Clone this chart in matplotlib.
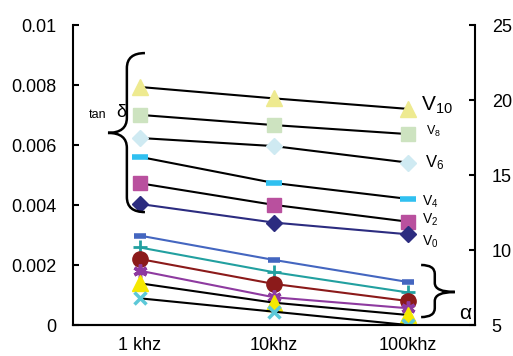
import numpy as np
import matplotlib.pyplot as plt
from matplotlib.path import Path
from matplotlib.patches import PathPatch

plt.rcParams['font.family'] = ['Liberation Sans', 'DejaVu Sans']

# категории частоты
freqs = ['1 khz', '10khz', '100khz']

# tan delta (левая ось)
v10 = [0.00795, 0.00757, 0.00722]
v8 = [0.00702, 0.00668, 0.00638]
v6 = [0.00625, 0.00598, 0.00543]
v4 = [0.00562, 0.00475, 0.00422]
v2 = [0.00474, 0.00402, 0.00346]
v0 = [0.00405, 0.00343, 0.00304]

# alpha (правая ось)
a_blue = [10.99, 9.37, 7.90]
a_teal = [10.20, 8.55, 7.20]
a_red = [9.43, 7.77, 6.63]
a_purple = [8.65, 6.88, 6.15]
a_yellow = [7.81, 6.52, 5.70]
a_cyan = [6.81, 5.92, 5.03]

left_ticks = [0, 0.002, 0.004, 0.006, 0.008, 0.01]
left_labels = ['0', '0.002', '0.004', '0.006', '0.008', '0.01']
right_ticks = [5, 10, 15, 20, 25]

x = np.arange(len(freqs))

fig = plt.figure(figsize=(5.13, 3.56), dpi=100)
ax = fig.add_axes([0.1423, 0.0857, 0.7836, 0.8427])
ax2 = ax.twinx()

# верхняя группа
ax.plot(x, v10, color='black', lw=1.5, marker='^', ms=11, mfc='#eeea90', mec='#eeea90')
ax.plot(x, v8, color='black', lw=1.5, marker='s', ms=10, mfc='#cde3c0', mec='#cde3c0')
ax.plot(x, v6, color='black', lw=1.5, marker='D', ms=8, mfc='#cfeaf2', mec='#cfeaf2')
ax.plot(x, v4, color='black', lw=1.5, marker='_', ms=11, mew=4, mec='#30c0f0')
ax.plot(x, v2, color='black', lw=1.5, marker='s', ms=10, mfc='#b9509e', mec='#b9509e')
ax.plot(x, v0, color='#2c2c80', lw=1.5, marker='D', ms=8, mfc='#2c2c80', mec='#2c2c80')

# нижняя группа
ax2.plot(x, a_blue, color='#4466c0', lw=1.5, marker='_', ms=8, mew=4, mec='#4466c0')
ax2.plot(x, a_teal, color='#22a0a0', lw=1.5, marker='+', ms=10, mew=2)
ax2.plot(x, a_red, color='#8b1a1a', lw=1.5, marker='o', ms=11)
ax2.plot(x, a_purple, color='#8e3aa0', lw=1.5, marker=(6, 2, 0), ms=10, mew=2.5)
ax2.plot(x, a_yellow, color='black', lw=1.5, marker='^', ms=11, mfc='#f5e800', mec='#f5e800')
ax2.plot(x, a_cyan, color='black', lw=1.5, marker='x', ms=9, mew=2.5, mec='#5cc8d8')

ax.set_xlim(-0.5, 2.5)
ax.set_ylim(0, 0.01)
ax2.set_ylim(5, 25)
ax.set_xticks(x)
ax.set_xticklabels(freqs)
ax.set_yticks(left_ticks)
ax.set_yticklabels(left_labels)
ax2.set_yticks(right_ticks)

ax.tick_params(axis='x', length=0, pad=8, labelsize=13)
ax.tick_params(axis='y', direction='in', length=4, width=1.5, pad=12, labelsize=13)
ax2.tick_params(axis='y', direction='in', length=4, width=1.5, pad=12, labelsize=13)

for a in (ax, ax2):
    a.spines['top'].set_visible(False)
    for s in ('left', 'right', 'bottom'):
        a.spines[s].set_linewidth(1.5)
ax.spines['right'].set_visible(False)
ax2.spines['left'].set_visible(False)


def brace(ax, xe, xs, xt, yt, ym, yb, r):
    # фигурная скобка в долях осей
    verts = [(xe, yt), (xs, yt), (xs, yt - r),
             (xs, ym + r),
             (xs, ym), (xt, ym),
             (xs, ym), (xs, ym - r),
             (xs, yb + r),
             (xs, yb), (xe, yb)]
    codes = [Path.MOVETO, Path.CURVE3, Path.CURVE3,
             Path.LINETO,
             Path.CURVE3, Path.CURVE3,
             Path.CURVE3, Path.CURVE3,
             Path.LINETO,
             Path.CURVE3, Path.CURVE3]
    p = PathPatch(Path(verts, codes), fc='none', ec='black', lw=1.8,
                  transform=ax.transAxes, clip_on=False)
    ax.add_patch(p)


brace(ax2, 0.179, 0.134, 0.087, 0.908, 0.642, 0.378, 0.05)
brace(ax2, 0.866, 0.900, 0.950, 0.2017, 0.1117, 0.028, 0.03)

ax2.text(0.062, 0.70, 'tan', transform=ax2.transAxes, fontsize=9, ha='center', va='center')
ax2.text(0.12, 0.71, 'δ', transform=ax2.transAxes, fontsize=13, ha='center', va='center')
ax2.text(0.975, 0.04, 'α', transform=ax2.transAxes, fontsize=15, ha='center', va='center')

labels = [(r'$\mathregular{V_{10}}$', 0.865, 0.735, 15),
          (r'$\mathregular{V_{8}}$', 0.878, 0.648, 9),
          (r'$\mathregular{V_{6}}$', 0.876, 0.542, 12),
          (r'$\mathregular{V_{4}}$', 0.868, 0.412, 10),
          (r'$\mathregular{V_{2}}$', 0.868, 0.352, 10),
          (r'$\mathregular{V_{0}}$', 0.868, 0.279, 10)]
for t, fx, fy, fs in labels:
    ax2.text(fx, fy, t, transform=ax2.transAxes, fontsize=fs, ha='left', va='center')

fig.savefig('out.png', dpi=100)
